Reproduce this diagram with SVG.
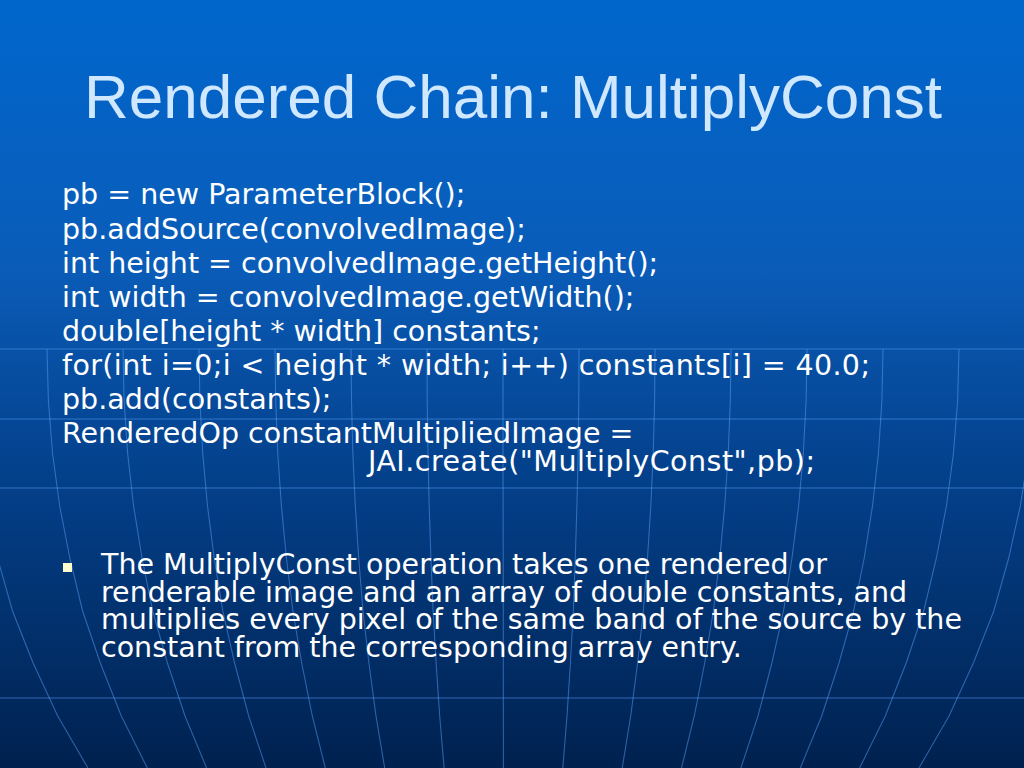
<svg xmlns="http://www.w3.org/2000/svg" width="1024" height="768" viewBox="0 0 1024 768">
  <defs>
    <linearGradient id="bg" x1="0" y1="0" x2="0" y2="1">
      <stop offset="0" stop-color="#0066CC"/>
      <stop offset="0.35" stop-color="#0A5CB8"/>
      <stop offset="0.6" stop-color="#04428E"/>
      <stop offset="1" stop-color="#00214F"/>
    </linearGradient>
    <linearGradient id="fadeH" x1="0" y1="0" x2="1" y2="0">
      <stop offset="0" stop-color="#4D96F0" stop-opacity="0.55"/>
      <stop offset="0.15" stop-color="#4D96F0" stop-opacity="0.05"/>
      <stop offset="0.85" stop-color="#4D96F0" stop-opacity="0.05"/>
      <stop offset="1" stop-color="#4D96F0" stop-opacity="0.55"/>
    </linearGradient>
    <style>
      .grid { fill: none; stroke: #4D96F0; stroke-opacity: 0.6; stroke-width: 1.2; }
      .mer { fill: none; stroke: #5AA0F5; stroke-opacity: 0.5; stroke-width: 1.1; }
      .title { font-family: "Liberation Sans", Arial, sans-serif; font-size: 62px; fill: #CFE7FF; }
      .code { font-family: "DejaVu Sans", Verdana, sans-serif; font-size: 28.5px; fill: #FFFFFF; }
      .body { font-family: "DejaVu Sans", Verdana, sans-serif; font-size: 28.5px; fill: #FFFFFF; }
    </style>
  </defs>

  <rect x="0" y="0" width="1024" height="768" fill="url(#bg)"/>

  <g id="background-grid">
    <line class="grid" x1="0" y1="349" x2="1024" y2="349"/>
    <line class="grid" x1="0" y1="419" x2="1024" y2="419"/>
    <line class="grid" x1="0" y1="488" x2="1024" y2="488"/>
    <line x1="0" y1="628" x2="1024" y2="628" stroke="url(#fadeH)" stroke-width="1.2"/>
    <line class="grid" x1="0" y1="698" x2="1024" y2="698" stroke-opacity="0.4"/>
    <polyline class="mer" points="-29,349 -27.4,401 -22.4,454 -14.2,506 -2.5,558 12.5,611 33.1,663 57.7,716 87.9,768"/>
    <polyline class="mer" points="47,349 48.4,401 52.6,454 59.7,506 69.8,558 82.6,611 100.3,663 121.3,716 147.3,768"/>
    <polyline class="mer" points="123,349 124.1,401 127.7,454 133.6,506 142,558 152.7,611 167.4,663 185,716 206.6,768"/>
    <polyline class="mer" points="199,349 199.9,401 202.8,454 207.5,506 214.2,558 222.8,611 234.6,663 248.7,716 266,768"/>
    <polyline class="mer" points="275,349 275.7,401 277.8,454 281.4,506 286.4,558 292.9,611 301.7,663 312.3,716 325.3,768"/>
    <polyline class="mer" points="351,349 351.5,401 352.9,454 355.3,506 358.7,558 363,611 368.9,663 376,716 384.7,768"/>
    <polyline class="mer" points="427,349 427.2,401 428,454 429.2,506 430.9,558 433.1,611 436.1,663 439.7,716 444.1,768"/>
    <polyline class="mer" points="503,349 503,454 503.2,558 503.3,663 503.4,768"/>
    <polyline class="mer" points="579,349 578.8,401 578.1,454 576.9,506 575.3,558 573.3,611 570.4,663 567,716 562.8,768"/>
    <polyline class="mer" points="655,349 654.6,401 653.2,454 650.8,506 647.5,558 643.3,611 637.6,663 630.7,716 622.2,768"/>
    <polyline class="mer" points="731,349 730.3,401 728.2,454 724.7,506 719.8,558 713.4,611 704.7,663 694.3,716 681.5,768"/>
    <polyline class="mer" points="807,349 806.1,401 803.3,454 798.6,506 792,558 783.5,611 771.9,663 758,716 740.9,768"/>
    <polyline class="mer" points="883,349 881.9,401 878.4,454 872.5,506 864.2,558 853.6,611 839,663 821.7,716 800.3,768"/>
    <polyline class="mer" points="959,349 957.6,401 953.4,454 946.4,506 936.4,558 923.7,611 906.2,663 885.3,716 859.6,768"/>
    <polyline class="mer" points="1035,349 1033.4,401 1028.5,454 1020.3,506 1008.7,558 993.8,611 973.4,663 949,716 919,768"/>
  </g>

  <g id="title">
    <text class="title" x="513" y="118" text-anchor="middle">Rendered Chain: MultiplyConst</text>
  </g>

  <g id="code">
    <text class="code" x="62" y="204">pb = new ParameterBlock();</text>
    <text class="code" x="62" y="239">pb.addSource(convolvedImage);</text>
    <text class="code" x="62" y="273">int height = convolvedImage.getHeight();</text>
    <text class="code" x="62" y="307">int width = convolvedImage.getWidth();</text>
    <text class="code" x="62" y="341">double[height * width] constants;</text>
    <text class="code" x="62" y="375" textLength="808" lengthAdjust="spacing">for(int i=0;i &lt; height * width; i++) constants[i] = 40.0;</text>
    <text class="code" x="62" y="409">pb.add(constants);</text>
    <text class="code" x="62" y="443">RenderedOp constantMultipliedImage =</text>
    <text class="code" x="368" y="471" textLength="447" lengthAdjust="spacing">JAI.create("MultiplyConst",pb);</text>
  </g>

  <g id="bullet">
    <rect x="63" y="563" width="9" height="9" fill="#FFFFCC"/>
    <text class="body" x="101" y="574">The MultiplyConst operation takes one rendered or</text>
    <text class="body" x="101" y="602">renderable image and an array of double constants, and</text>
    <text class="body" x="101" y="629">multiplies every pixel of the same band of the source by the</text>
    <text class="body" x="101" y="657">constant from the corresponding array entry.</text>
  </g>
</svg>
